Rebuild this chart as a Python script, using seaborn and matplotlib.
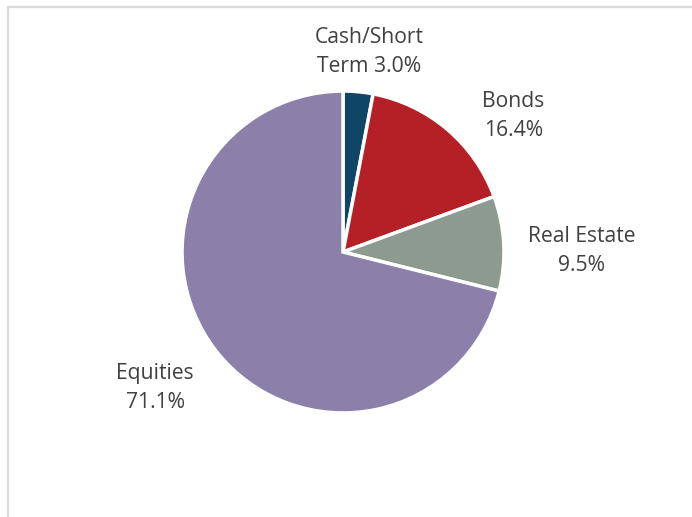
import matplotlib.pyplot as plt
import seaborn as sns
from matplotlib.lines import Line2D

sns.set_theme(style="white")
plt.rcParams['font.family'] = ['Open Sans', 'DejaVu Sans']

# allocation data
categories = ['Cash/Short\nTerm', 'Bonds', 'Real Estate', 'Equities']
shares = [3.0, 16.4, 9.5, 71.1]
colors = ['#0f4666', '#b42025', '#8d9a8f', '#8b80aa']

# label spots in pie-radius units (hand placed like the original)
label_xy = [(0.165, 1.252), (1.064, 0.847), (1.49, 0.007), (-1.175, -0.847)]

fig = plt.figure(figsize=(6.92, 5.17), dpi=100)
ax = fig.add_axes([0, 0, 1, 1])

palette = sns.color_palette(colors)
wedges, _ = ax.pie(shares, colors=palette, startangle=90, counterclock=False,
                   radius=1.006,
                   wedgeprops=dict(edgecolor='white', linewidth=2.5))

for name, val, (lx, ly) in zip(categories, shares, label_xy):
    sep = '\n' if '\n' not in name else ' '
    ax.text(lx, ly, f'{name}{sep}{val:.1f}%', ha='center', va='center',
            fontsize=15.2, color='#404040', linespacing=1.5)

# 1 unit = 160 px, centre at (343, 252) px from top-left
ax.set_xlim(-343 / 160, (692 - 343) / 160)
ax.set_ylim(-(517 - 252) / 160, 252 / 160)
ax.axis('off')

# thin frame lines on top and left, as in the source screenshot
ytop = 1 - 7 / 517
fig.add_artist(Line2D([7.5 / 692, 1], [ytop, ytop], color='#d9d9d9', lw=1.6,
                      transform=fig.transFigure))
fig.add_artist(Line2D([7.5 / 692, 7.5 / 692], [0, ytop], color='#d9d9d9', lw=1.6,
                      transform=fig.transFigure))

fig.savefig('out.png', dpi=100)
